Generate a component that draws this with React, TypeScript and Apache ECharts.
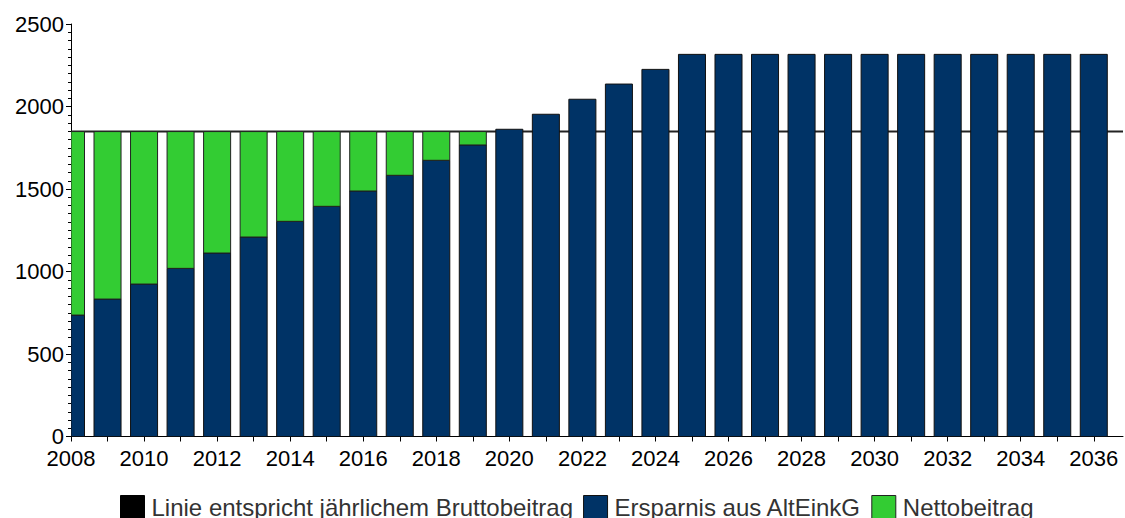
import React, { useEffect, useRef } from "react";
import * as echarts from "echarts";

const years = [2008, 2009, 2010, 2011, 2012, 2013, 2014, 2015, 2016, 2017, 2018, 2019, 2020, 2021, 2022, 2023, 2024, 2025, 2026, 2027, 2028, 2029, 2030, 2031, 2032, 2033, 2034, 2035, 2036];
const ersparnis = [736, 833, 924, 1019, 1112, 1209, 1304, 1395, 1488, 1583, 1674, 1767, 1862, 1953, 2044, 2136, 2225, 2316, 2316, 2316, 2316, 2316, 2316, 2316, 2316, 2316, 2316, 2316, 2316];
const netto = [1112, 1015, 924, 829, 736, 639, 544, 453, 360, 265, 174, 81, 0, 0, 0, 0, 0, 0, 0, 0, 0, 0, 0, 0, 0, 0, 0, 0, 0];
const bruttoLine = [[2008, 1848], [2036.8, 1848]];
const seriesNames = ["Linie entspricht jährlichem Bruttobeitrag", "Ersparnis aus AltEinkG", "Nettobeitrag"];

const FONT = 'Arial, "Liberation Sans", sans-serif';
const BAR_FRACTION = 0.74;

function renderBar(params: any, api: any) {
  const x = api.value(0);
  const y0 = api.value(1);
  const y1 = api.value(2);
  if (y1 <= y0) return null;
  const pBottom = api.coord([x, y0]);
  const pTop = api.coord([x, y1]);
  const w = api.size([1, 0])[0] * BAR_FRACTION;
  const cs = params.coordSys;
  const rect = echarts.graphic.clipRectByRect(
    { x: pBottom[0] - w / 2, y: pTop[1], width: w, height: pBottom[1] - pTop[1] },
    { x: cs.x, y: cs.y, width: cs.width, height: cs.height }
  );
  if (!rect) return null;
  return { type: "rect", shape: rect, style: api.style() };
}

export default function App() {
  const ref = useRef<HTMLDivElement>(null);
  useEffect(() => {
    if (!ref.current) return;
    const chart = echarts.init(ref.current, null, { renderer: "svg" });
    chart.setOption({
      animation: false,
      backgroundColor: "#ffffff",
      textStyle: { fontFamily: FONT },
      grid: { left: 71, right: 2, top: 24, bottom: 81.5, containLabel: false },
      legend: {
        top: 490,
        left: 115,
        itemWidth: 24,
        itemHeight: 23,
        itemGap: 10,
        icon: "rect",
        textStyle: { fontSize: 24, color: "#333", fontFamily: FONT, padding: [4, 0, 0, 2] },
        data: [
          { name: seriesNames[0], itemStyle: { color: "#000", borderColor: "#000", borderWidth: 1 } },
          { name: seriesNames[1], itemStyle: { color: "#003366", borderColor: "#111", borderWidth: 1 } },
          { name: seriesNames[2], itemStyle: { color: "#33cc33", borderColor: "#222", borderWidth: 1 } },
        ],
      },
      xAxis: {
        type: "value",
        min: 2008,
        max: 2036.8,
        interval: 1,
        splitLine: { show: false },
        axisLine: { show: true, onZero: false, lineStyle: { color: "#000", width: 1 } },
        axisTick: { show: true, inside: false, length: 5, lineStyle: { color: "#000" } },
        axisLabel: {
          fontSize: 22,
          color: "#000",
          fontFamily: FONT,
          margin: 11,
          showMaxLabel: false,
          formatter: (v: number) => (Number.isInteger(v) && v % 2 === 0 ? String(v) : ""),
        },
      },
      yAxis: {
        type: "value",
        min: 0,
        max: 2500,
        interval: 500,
        splitLine: { show: false },
        axisLine: { show: true, lineStyle: { color: "#000", width: 1 } },
        axisTick: { show: true, inside: false, length: 5, lineStyle: { color: "#000" } },
        minorTick: { show: true, splitNumber: 10, length: 3, lineStyle: { color: "#000" } },
        axisLabel: { fontSize: 22, color: "#000", fontFamily: FONT, margin: 7, formatter: (v: number) => String(v) },
      },
      series: [
        {
          name: seriesNames[0],
          type: "line",
          data: bruttoLine,
          symbol: "none",
          z: 1,
          lineStyle: { color: "#222", width: 2 },
          itemStyle: { color: "#000" },
        },
        {
          name: seriesNames[1],
          type: "custom",
          z: 3,
          clip: true,
          renderItem: renderBar,
          encode: { x: 0, y: [1, 2] },
          data: years.map((y, i) => [y, 0, ersparnis[i]]),
          itemStyle: { color: "#003366", borderColor: "#111", borderWidth: 1 },
        },
        {
          name: seriesNames[2],
          type: "custom",
          z: 3,
          clip: true,
          renderItem: renderBar,
          encode: { x: 0, y: [1, 2] },
          data: years.map((y, i) => [y, ersparnis[i], ersparnis[i] + netto[i]]),
          itemStyle: { color: "#33cc33", borderColor: "#222", borderWidth: 1 },
        },
      ],
    });
    return () => chart.dispose();
  }, []);
  return <div ref={ref} style={{ position: "fixed", left: 0, top: 0, width: 1125, height: 518 }} />;
}
